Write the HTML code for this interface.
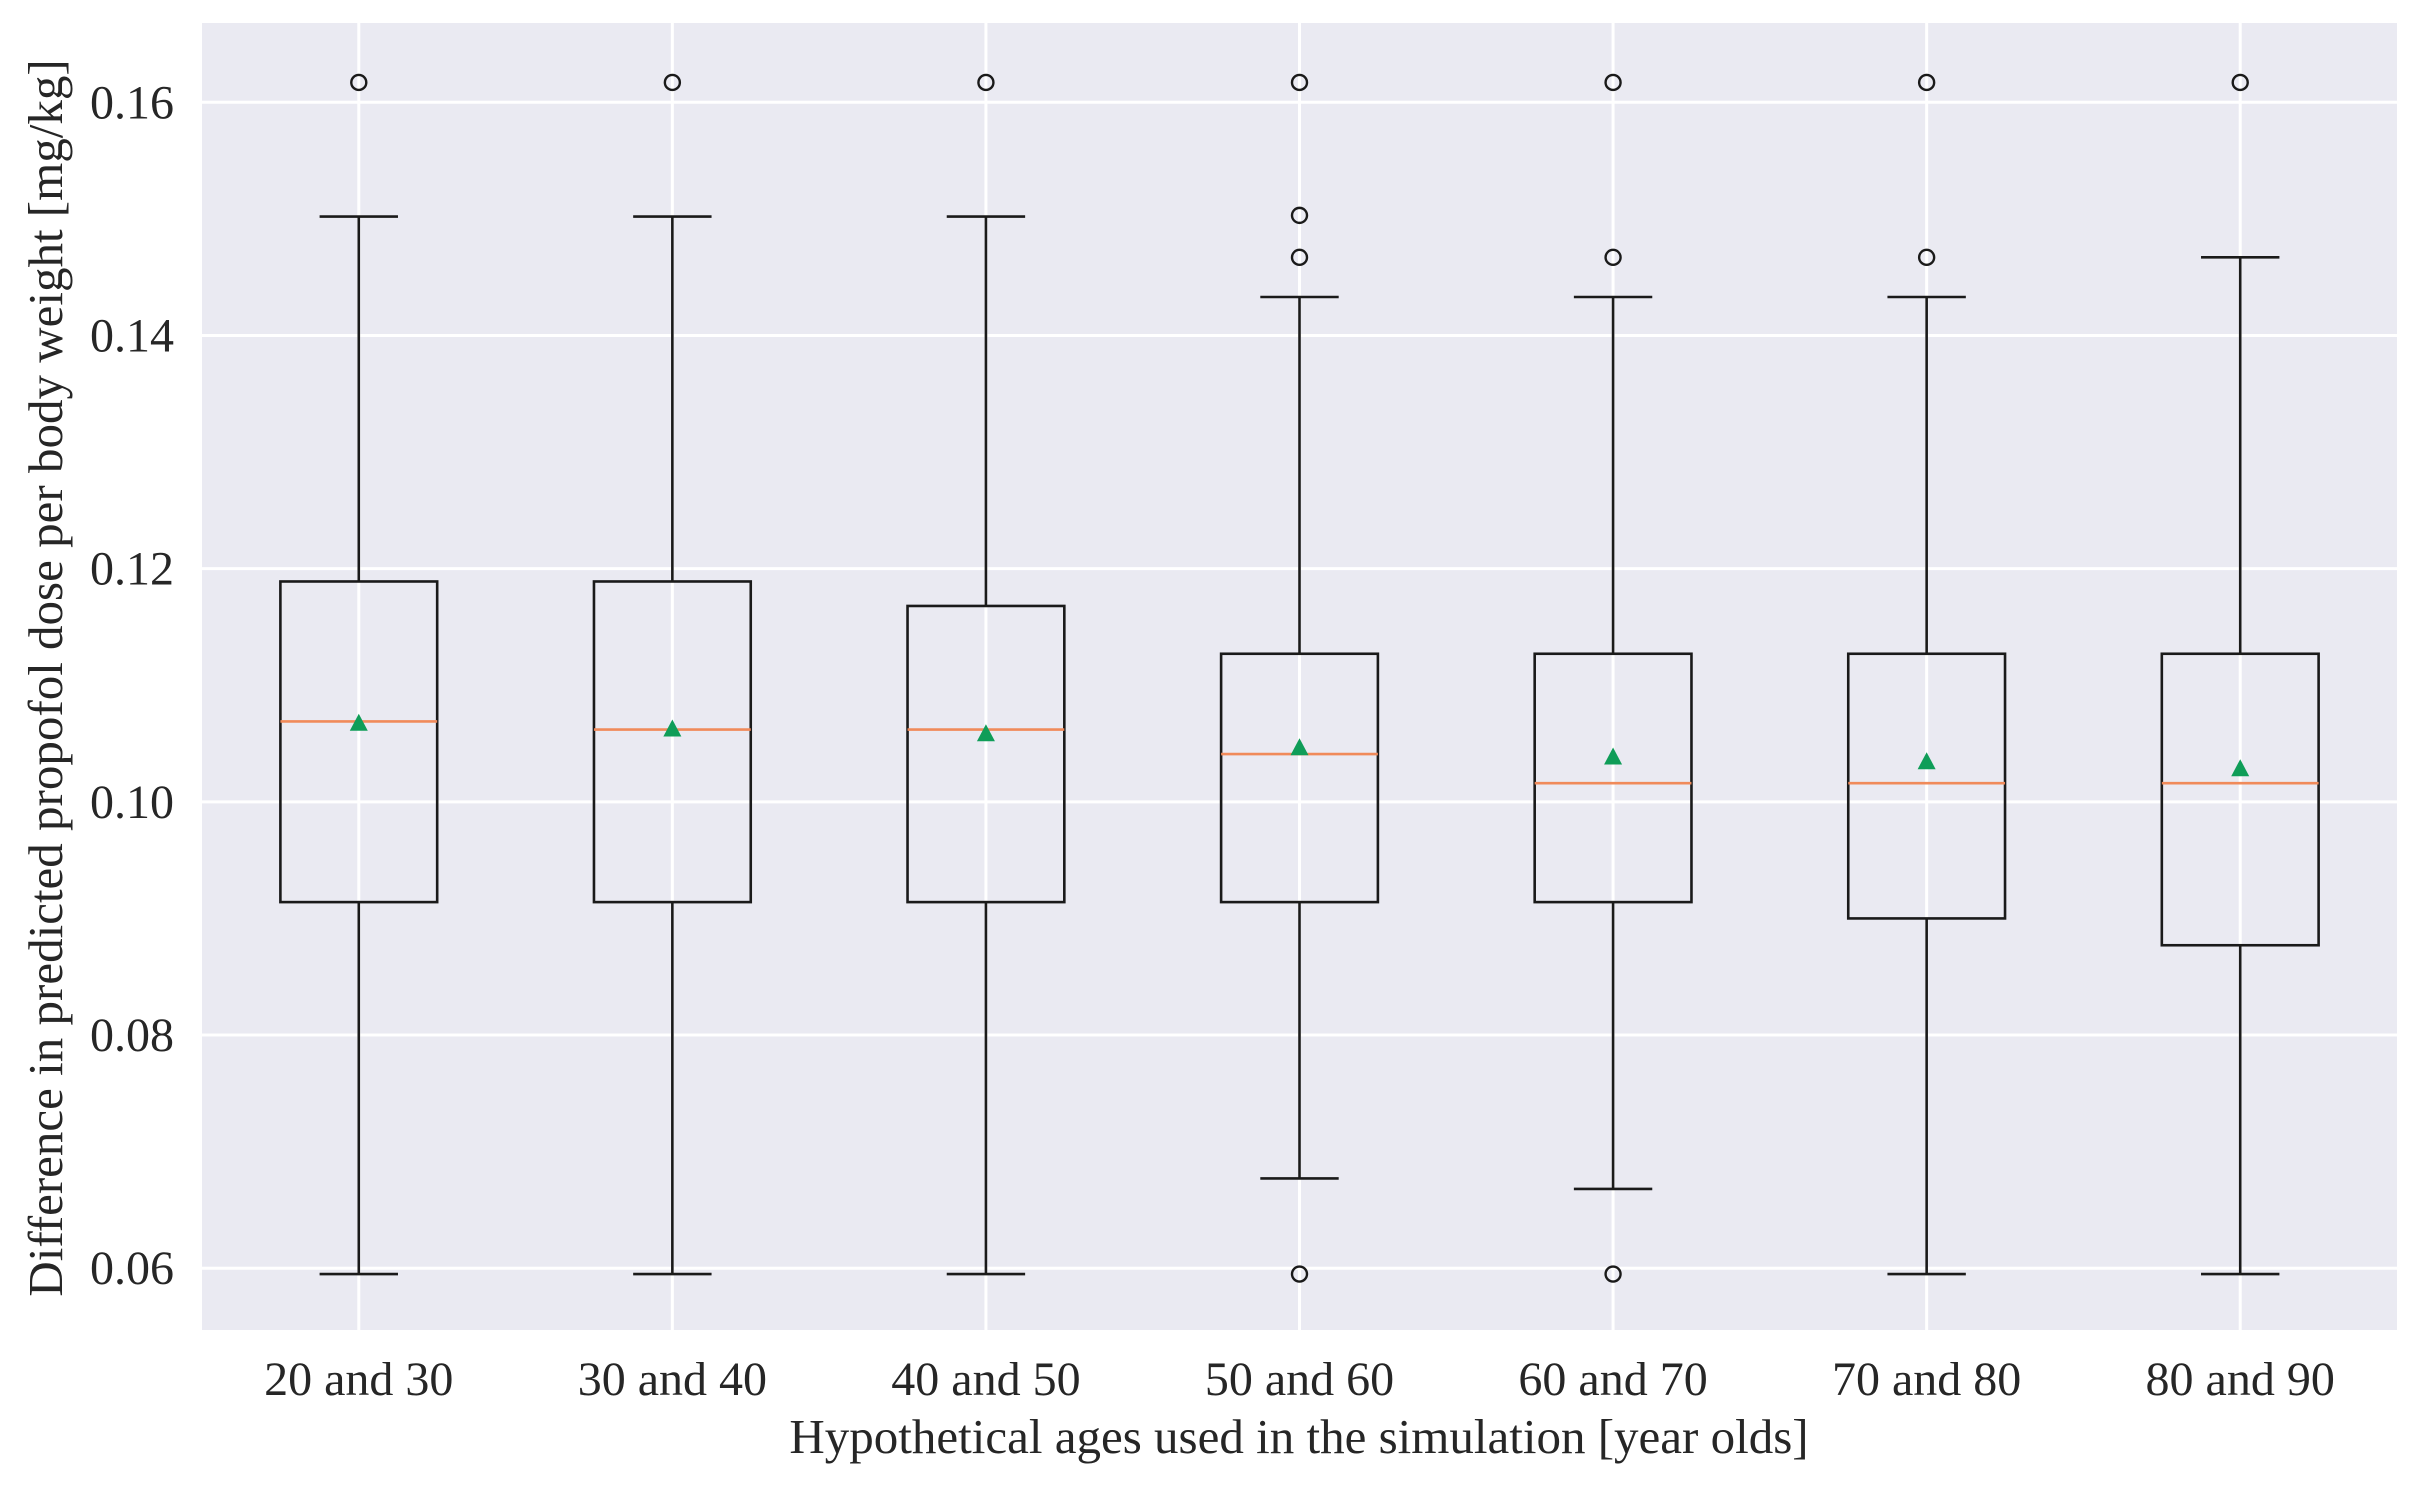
<!DOCTYPE html>
<html><head><meta charset="utf-8"><style>
html,body{margin:0;padding:0;background:#fff;}
svg{display:block;}
text{font-family:"Liberation Serif",serif;fill:#262626;}
</style></head><body>
<svg id="chart" width="2424" height="1488" xmlns="http://www.w3.org/2000/svg"></svg>
<script>
const categories=["20 and 30","30 and 40","40 and 50","50 and 60","60 and 70","70 and 80","80 and 90"];
const whiskerLow=[0.0595,0.0595,0.0595,0.0677,0.0668,0.0595,0.0595];
const q1=[0.0914,0.0914,0.0914,0.0914,0.0914,0.0900,0.0877];
const medians=[0.1069,0.1062,0.1062,0.1041,0.1016,0.1016,0.1016];
const means=[0.1067,0.1062,0.1058,0.1046,0.1038,0.1034,0.1028];
const q3=[0.1189,0.1189,0.1168,0.1127,0.1127,0.1127,0.1127];
const whiskerHigh=[0.1502,0.1502,0.1502,0.1433,0.1433,0.1433,0.1467];
const outliers=[[0.1617],[0.1617],[0.1617],[0.1617,0.1503,0.1467,0.0595],[0.1617,0.1467,0.0595],[0.1617,0.1467],[0.1617]];
const yTicks=[0.06,0.08,0.10,0.12,0.14,0.16];
const yTickLabels=["0.06","0.08","0.10","0.12","0.14","0.16"];

const svg=document.getElementById('chart');
const NS='http://www.w3.org/2000/svg';
const L=202,R=2397,T=23,B=1330;
const yMin=0.0547,yMax=0.1668;
const xs=i=>L+(i+0.5)*(R-L)/categories.length;
const ys=v=>B-(v-yMin)/(yMax-yMin)*(B-T);
const unit=(R-L)/categories.length;
function mk(tag,attrs,parent){const e=document.createElementNS(NS,tag);for(const k in attrs)e.setAttribute(k,attrs[k]);(parent||svg).appendChild(e);return e;}

const bg=mk('rect',{x:L,y:T,width:R-L,height:B-T,fill:'#eaeaf2'});



yTicks.forEach((v,i)=>{
  const g=mk('line',{x1:L,x2:R,y1:ys(v),y2:ys(v),stroke:'#fff','stroke-width':3});
  
  
  const t=mk('text',{x:174,y:ys(v)+16,'text-anchor':'end','font-size':48});
  t.textContent=yTickLabels[i];
  
  
});
categories.forEach((c,i)=>{
  const g=mk('line',{x1:xs(i),x2:xs(i),y1:T,y2:B,stroke:'#fff','stroke-width':3});
  
  
  const t=mk('text',{x:xs(i),y:1395,'text-anchor':'middle','font-size':48});
  t.textContent=c;
  
  
});

categories.forEach((c,i)=>{
  const cx=xs(i),hw=unit*0.25,cw=unit*0.125;
  const g=mk('g',{});
  
  
  const st={stroke:'#1a1a1a','stroke-width':2.6,fill:'none'};
  mk('line',Object.assign({x1:cx,x2:cx,y1:ys(whiskerHigh[i]),y2:ys(q3[i])},st),g);
  mk('line',Object.assign({x1:cx,x2:cx,y1:ys(q1[i]),y2:ys(whiskerLow[i])},st),g);
  mk('line',Object.assign({x1:cx-cw,x2:cx+cw,y1:ys(whiskerHigh[i]),y2:ys(whiskerHigh[i])},st),g);
  mk('line',Object.assign({x1:cx-cw,x2:cx+cw,y1:ys(whiskerLow[i]),y2:ys(whiskerLow[i])},st),g);
  mk('rect',Object.assign({x:cx-hw,y:ys(q3[i]),width:2*hw,height:ys(q1[i])-ys(q3[i])},st),g);
  mk('line',{x1:cx-hw,x2:cx+hw,y1:ys(medians[i]),y2:ys(medians[i]),stroke:'#f08a5a','stroke-width':2.6},g);
  const my=ys(means[i]);
  mk('polygon',{points:`${cx},${my-10} ${cx-9},${my+7} ${cx+9},${my+7}`,fill:'#0f9d58'},g);
  outliers[i].forEach(v=>{
    mk('circle',{cx:cx,cy:ys(v),r:7.5,fill:'none',stroke:'#1a1a1a','stroke-width':2.4},g);
  });
});

const xl=mk('text',{x:1299,y:1453,'text-anchor':'middle','font-size':49});
xl.textContent='Hypothetical ages used in the simulation [year olds]';


const yl=mk('text',{x:0,y:0,'text-anchor':'middle','font-size':49,transform:'translate(62,678) rotate(-90)'});
yl.textContent='Difference in predicted propofol dose per body weight [mg/kg]';


</script>
</body></html>
